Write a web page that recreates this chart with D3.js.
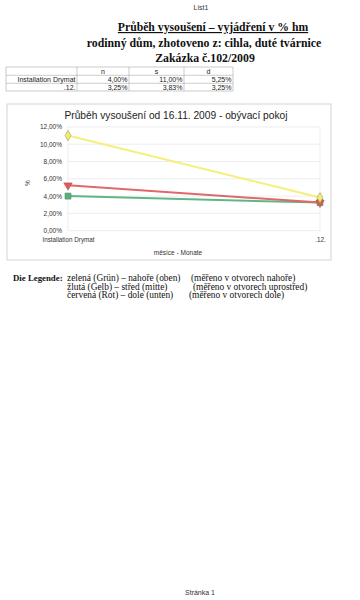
<!DOCTYPE html>
<html><head><meta charset="utf-8">
<script src="https://cdn.jsdelivr.net/npm/d3@7/dist/d3.min.js"></script>
<style>body{margin:0;background:#fff}svg{display:block}</style>
</head><body>
<svg id="c" width="360" height="600"></svg>
<script>
const categories = ["Installation Drymat", ".12."];
const seriesNames = ["n", "s", "d"];
const seriesN = [4.00, 3.25];
const seriesS = [11.00, 3.83];
const seriesD = [5.25, 3.25];
const yTicks = [0, 2, 4, 6, 8, 10, 12];
const legendLines = [
  ["zelená (Grün) – nahoře (oben)", "(měřeno v otvorech nahoře)"],
  ["žlutá (Gelb) – střed (mitte)", "(měřeno v otvorech uprostřed)"],
  ["červená (Rot) – dole (unten)", "(měřeno v otvorech dole)"]
];

const svg = d3.select("#c");
const SANS = "Liberation Sans, Arial, sans-serif";
const SERIF = "Liberation Serif, Times New Roman, serif";
const fmt = v => d3.format(".2f")(v).replace(".", ",") + "%";

// header texts
svg.append("text").attr("x", 201).attr("y", 10).attr("text-anchor", "middle")
  .attr("font-family", SANS).attr("font-size", 7).attr("fill", "#333").text("List1");
svg.append("text").attr("x", 213).attr("y", 31).attr("text-anchor", "middle")
  .attr("font-family", SERIF).attr("font-weight", "bold").attr("font-size", 11.7).attr("fill", "#111")
  .attr("text-decoration", "underline").text("Průběh vysoušení – vyjádření v % hm");
svg.append("text").attr("x", 204).attr("y", 47).attr("text-anchor", "middle")
  .attr("font-family", SERIF).attr("font-weight", "bold").attr("font-size", 11.8).attr("fill", "#111")
  .text("rodinný dům, zhotoveno z: cihla, duté tvárnice");
svg.append("text").attr("x", 205).attr("y", 62).attr("text-anchor", "middle")
  .attr("font-family", SERIF).attr("font-weight", "bold").attr("font-size", 11.8).attr("fill", "#111")
  .text("Zakázka č.102/2009");

// table
const colX = [6, 77, 129, 184, 233];
const rowY = [67, 75.3, 83.3, 91];
const tg = svg.append("g");
rowY.forEach(y => tg.append("line").attr("x1", colX[0]).attr("x2", colX[4]).attr("y1", y).attr("y2", y)
  .attr("stroke", "#aaa").attr("stroke-width", 0.6));
colX.forEach(x => tg.append("line").attr("x1", x).attr("x2", x).attr("y1", rowY[0]).attr("y2", rowY[3])
  .attr("stroke", "#aaa").attr("stroke-width", 0.6));
const tableData = [seriesN, seriesS, seriesD];
seriesNames.forEach((n, i) => tg.append("text").attr("x", (colX[i + 1] + colX[i + 2]) / 2).attr("y", rowY[1] - 1.5)
  .attr("text-anchor", "middle").attr("font-family", SANS).attr("font-size", 7).attr("fill", "#222").text(n));
categories.forEach((c, r) => {
  tg.append("text").attr("x", colX[1] - 1.5).attr("y", rowY[r + 2] - 1.5).attr("text-anchor", "end")
    .attr("font-family", SANS).attr("font-size", 7).attr("fill", "#222").text(c);
  tableData.forEach((s, i) => tg.append("text").attr("x", colX[i + 2] - 1.5).attr("y", rowY[r + 2] - 1.5)
    .attr("text-anchor", "end").attr("font-family", SANS).attr("font-size", 7).attr("fill", "#222").text(fmt(s[r])));
});

// chart box
svg.append("rect").attr("x", 7).attr("y", 104).attr("width", 324).attr("height", 156)
  .attr("fill", "#fff").attr("stroke", "#c8c8c8").attr("stroke-width", 0.8);
svg.append("text").attr("x", 176).attr("y", 119).attr("text-anchor", "middle")
  .attr("font-family", SANS).attr("font-size", 10.2).attr("fill", "#222")
  .text("Průběh vysoušení od 16.11. 2009 - obývací pokoj");

const x = d3.scalePoint().domain(categories).range([68, 320]);
const y = d3.scaleLinear().domain([0, 12]).range([230.7, 126.9]);

// grid
const g = svg.append("g");
yTicks.forEach(t => g.append("line").attr("x1", 68).attr("x2", 320).attr("y1", y(t)).attr("y2", y(t))
  .attr("stroke", "#e4e8ee").attr("stroke-width", 0.8));
[68, 320].forEach(xx => g.append("line").attr("x1", xx).attr("x2", xx).attr("y1", y(12)).attr("y2", y(0))
  .attr("stroke", "#e4e8ee").attr("stroke-width", 0.8));

// y axis
const ya = svg.append("g").attr("transform", "translate(62,0)")
  .call(d3.axisLeft(y).tickValues(yTicks).tickSize(0).tickPadding(0).tickFormat(fmt));
ya.select(".domain").remove();
ya.selectAll("text").attr("font-family", SANS).attr("font-size", 6.5).attr("fill", "#333");

// x axis
const xa = svg.append("g").attr("transform", "translate(0,237.5)")
  .call(d3.axisBottom(x).tickSize(0).tickPadding(0));
xa.select(".domain").remove();
xa.selectAll("text").attr("font-family", SANS).attr("font-size", 6.3).attr("fill", "#333");

svg.append("text").attr("x", 178).attr("y", 255).attr("text-anchor", "middle")
  .attr("font-family", SANS).attr("font-size", 6.5).attr("fill", "#333").text("měsíce - Monate");
svg.append("text").attr("transform", "translate(30,183) rotate(-90)").attr("text-anchor", "middle")
  .attr("font-family", SANS).attr("font-size", 6.5).attr("fill", "#333").text("%");

// series
const series = [
  { v: seriesN, line: "#62b584", fill: "#5aae7c", stroke: "#4a9a6a", sym: d3.symbolSquare, size: 36, rot: 0 },
  { v: seriesD, line: "#e06868", fill: "#e05c5c", stroke: "#b84848", sym: d3.symbolTriangle, size: 30, rot: 180 },
  { v: seriesS, line: "#f4f07a", fill: "#f3ef66", stroke: "#9a9a70", sym: d3.symbolDiamond, size: 30, rot: 0 }
];
const lineGen = d3.line().x((d, i) => x(categories[i])).y(d => y(d));
series.forEach(s => {
  svg.append("path").datum(s.v).attr("d", lineGen).attr("fill", "none")
    .attr("stroke", s.line).attr("stroke-width", 2);
});
series.forEach(s => {
  s.v.forEach((v, i) => {
    svg.append("path").attr("d", d3.symbol().type(s.sym).size(s.size)())
      .attr("transform", `translate(${x(categories[i])},${y(v)}) rotate(${s.rot})`)
      .attr("fill", s.fill).attr("stroke", s.stroke).attr("stroke-width", 0.6);
  });
});

// legend text
svg.append("text").attr("x", 13).attr("y", 281).attr("font-family", SERIF).attr("font-weight", "bold")
  .attr("font-size", 8.8).attr("fill", "#111").text("Die Legende:");
const lx2 = [191, 193, 189];
legendLines.forEach((l, i) => {
  svg.append("text").attr("x", 67).attr("y", 281 + i * 8.6).attr("font-family", SERIF)
    .attr("font-size", 9.4).attr("fill", "#111").text(l[0]);
  svg.append("text").attr("x", lx2[i]).attr("y", 281 + i * 8.6).attr("font-family", SERIF)
    .attr("font-size", 9.4).attr("fill", "#111").text(l[1]);
});

svg.append("text").attr("x", 200).attr("y", 595).attr("text-anchor", "middle")
  .attr("font-family", SANS).attr("font-size", 7).attr("fill", "#333").text("Stránka 1");
</script>
</body></html>
